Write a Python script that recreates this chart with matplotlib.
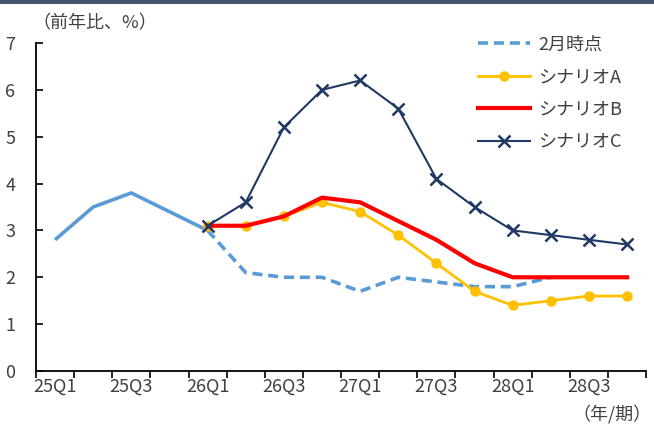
import matplotlib
matplotlib.use("Agg")
import matplotlib.pyplot as plt
from matplotlib.patches import Rectangle
import numpy as np

plt.rcParams['font.family'] = ['Noto Sans CJK JP', 'DejaVu Sans']

# 四半期（25Q1〜28Q4）
quarters = ['25Q1', '25Q2', '25Q3', '25Q4', '26Q1', '26Q2', '26Q3', '26Q4',
            '27Q1', '27Q2', '27Q3', '27Q4', '28Q1', '28Q2', '28Q3', '28Q4']

# 実績（25Q1〜26Q1）
actual = [2.8, 3.5, 3.8, 3.4, 3.0]
# 2月時点の見通し（26Q1〜28Q2）
feb_outlook = [3.0, 2.1, 2.0, 2.0, 1.7, 2.0, 1.9, 1.8, 1.8, 2.0]
# シナリオ（26Q1〜28Q4）
scen_a = [3.1, 3.1, 3.3, 3.6, 3.4, 2.9, 2.3, 1.7, 1.4, 1.5, 1.6, 1.6]
scen_b = [3.1, 3.1, 3.3, 3.7, 3.6, 3.2, 2.8, 2.3, 2.0, 2.0, 2.0, 2.0]
scen_c = [3.1, 3.6, 5.2, 6.0, 6.2, 5.6, 4.1, 3.5, 3.0, 2.9, 2.8, 2.7]

x = np.arange(len(quarters))
i0 = quarters.index('26Q1')
fs = 13

fig = plt.figure(figsize=(6.54, 4.28), dpi=100)
ax = fig.add_axes([0.055, 0.1332, 0.933, 0.7663])

# 上端の帯
fig.add_artist(Rectangle((0, 1 - 4/428), 1, 4/428, transform=fig.transFigure,
                         color='#44546A', lw=0))

ax.plot(x[:len(actual)], actual, color='#5B9BD5', lw=2.6, zorder=2,
        solid_capstyle='butt')
ax.plot(x[i0:i0 + len(feb_outlook)], feb_outlook, color='#5B9BD5', lw=2.6,
        ls=(0, (2.8, 1.6)), zorder=2, label='2月時点')
ax.plot(x[i0:], scen_a, color='#FFC000', lw=2.0, marker='o', ms=6.5,
        zorder=3, label='シナリオA')
ax.plot(x[i0:], scen_b, color='#FF0000', lw=3.0, zorder=4, label='シナリオB')
ax.plot(x[i0:], scen_c, color='#1F3864', lw=1.5, marker='x', ms=8, mew=1.8,
        zorder=5, label='シナリオC')

ax.set_xlim(-0.5, len(quarters) - 0.5)
ax.set_ylim(0, 7)

# 目盛り線は区切り位置、ラベルは2期ごと
ax.set_xticks(np.arange(-0.5, len(quarters)))
ax.set_xticklabels([])
ax.set_xticks(x[::2], minor=True)
ax.set_xticklabels(quarters[::2], minor=True)
ax.tick_params(axis='x', which='major', direction='out', length=5, width=1.2,
               color='black')
ax.tick_params(axis='x', which='minor', length=0, pad=5, labelsize=fs,
               labelcolor='#404040')

ax.set_yticks(range(0, 8))
ax.tick_params(axis='y', direction='in', length=5, width=1.2, pad=15,
               labelsize=fs, labelcolor='#404040')

for s in ['top', 'right']:
    ax.spines[s].set_visible(False)
for s in ['left', 'bottom']:
    ax.spines[s].set_linewidth(1.3)
    ax.spines[s].set_color('black')

fig.text(0.05, 0.946, '（前年比、%）', fontsize=fs, color='#404040',
         ha='left', va='center')
fig.text(0.997, 0.032, '（年/期）', fontsize=fs, color='#404040',
         ha='right', va='center')

ax.legend(loc='upper left', bbox_to_anchor=(0.717, 0.938),
          bbox_transform=fig.transFigure, frameon=False, fontsize=fs,
          handlelength=2.9, handletextpad=0.45, labelspacing=0.8,
          borderpad=0, labelcolor='#404040')

fig.savefig('out.png', dpi=100)
